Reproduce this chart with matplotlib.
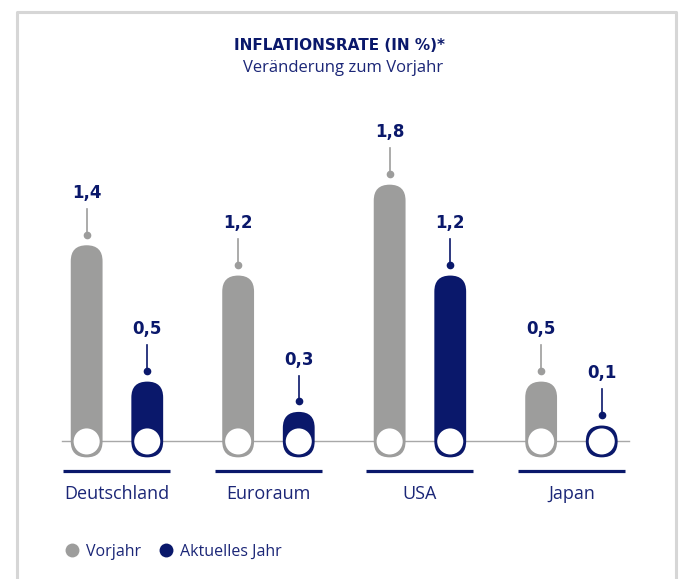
import matplotlib.pyplot as plt
from matplotlib.patches import FancyBboxPatch, Circle
from matplotlib.lines import Line2D

# data
regions = ['Deutschland', 'Euroraum', 'USA', 'Japan']
vorjahr = [1.4, 1.2, 1.8, 0.5]
aktuell = [0.5, 0.3, 1.2, 0.1]
series_names = ['Vorjahr', 'Aktuelles Jahr']

GREY = '#9d9d9c'
NAVY = '#0a186b'
TEXT = '#1b2677'
BOLD = ['DejaVu Sans']

plt.rcParams['font.family'] = ['Open Sans', 'DejaVu Sans']

fig = plt.figure(figsize=(6.79, 5.79), dpi=100)
ax = fig.add_axes([0, 0, 1, 1])
ax.set_xlim(-0.772, 3.710)
ax.set_ylim(-0.908, 2.914)
ax.axis('off')

r = 0.105       # capsule radius
r_in = 0.086    # white circle radius
off = 0.2       # bar offset inside group

# baseline
ax.plot([-0.36, 3.38], [0, 0], color='#a8a8a8', lw=1.0, zorder=1)


def capsule(x, v, color):
    h = max(v, 2 * r)
    ax.add_patch(FancyBboxPatch((x - r, -r), 2 * r, h,
                                boxstyle=f'round,pad=0,rounding_size={r}',
                                fc=color, ec='none', zorder=2))
    ax.add_patch(Circle((x, 0), r_in, fc='white', ec='none', zorder=3))
    top = max(v - r, r)
    ax.plot([x, x], [top + 0.07, top + 0.24], color=color, lw=1.2, zorder=2)
    ax.plot(x, top + 0.07, 'o', color=color, ms=4.5, zorder=3)
    label = f'{v:.1f}'.replace('.', ',')
    ax.text(x, top + 0.345, label, ha='center', va='center', family=BOLD,
            fontsize=12, fontweight='bold', color=NAVY)


for i, name in enumerate(regions):
    capsule(i - off, vorjahr[i], GREY)
    capsule(i + off, aktuell[i], NAVY)
    ax.plot([i - 0.353, i + 0.353], [-0.198, -0.198], color=NAVY, lw=2.3,
            solid_capstyle='butt')
    ax.text(i, -0.345, name, ha='center', va='center', fontsize=13,
            color=TEXT)

# title
fig.text(0.5, 1 - 45 / 579, 'INFLATIONSRATE (IN %)*', ha='center', va='center',
         family=BOLD, fontsize=11, fontweight='bold', color=NAVY)
fig.text(0.505, 1 - 68 / 579, 'Veränderung zum Vorjahr', ha='center',
         va='center', fontsize=12, color=TEXT)

# legend
handles = [Line2D([], [], ls='none', marker='o', ms=10, color=GREY, mec='none'),
           Line2D([], [], ls='none', marker='o', ms=10, color=NAVY, mec='none')]
leg = ax.legend(handles, series_names, loc='center left', ncol=2,
                bbox_to_anchor=(48 / 679, 1 - 552 / 579), frameon=False,
                handletextpad=0.25, columnspacing=1.0, fontsize=11.5,
                handlelength=1.2)
for t in leg.get_texts():
    t.set_color(TEXT)

# frame
fig.add_artist(Line2D([16.5 / 679, 16.5 / 679, 675.5 / 679, 675.5 / 679],
                      [0, 1 - 11.5 / 579, 1 - 11.5 / 579, 0],
                      color='#d6d6d6', lw=2.2))

fig.savefig('out.png', dpi=100)
